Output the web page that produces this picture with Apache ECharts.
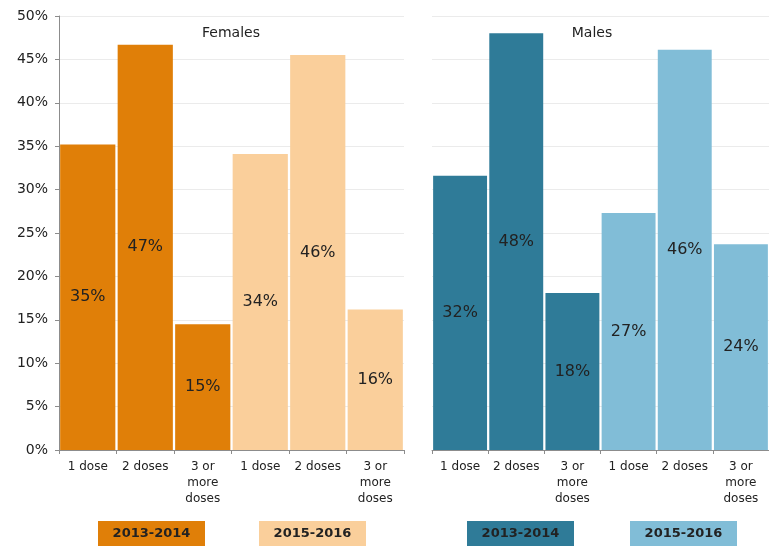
<!DOCTYPE html>
<html>
<head>
<meta charset="utf-8">
<script src="https://cdn.jsdelivr.net/npm/echarts@6/dist/echarts.min.js"></script>
<style>
  html, body { margin: 0; padding: 0; background: #fff; }
  #main { width: 769px; height: 546px; }
</style>
</head>
<body>
<div id="main"></div>
<script>
// dose categories, repeated for the two periods
var doseCats = ['1 dose', '2 doses', '3 or\nmore\ndoses', '1 dose', '2 doses', '3 or\nmore\ndoses'];
var yTicks = [0, 5, 10, 15, 20, 25, 30, 35, 40, 45, 50];

// percent of people, 2013-2014 then 2015-2016
var females1314 = [35.2, 46.7, 14.5];
var females1516 = [34.1, 45.5, 16.2];
var males1314 = [31.6, 48.0, 18.1];
var males1516 = [27.3, 46.1, 23.7];

var periods = ['2013-2014', '2015-2016'];
var femColors = ['#e07f08', '#facf9b'];
var maleColors = ['#2f7b98', '#81bdd7'];

function items(a, b, colors) {
    var out = [];
    a.forEach(function (v) { out.push({ value: v, itemStyle: { color: colors[0] } }); });
    b.forEach(function (v) { out.push({ value: v, itemStyle: { color: colors[1] } }); });
    return out;
}

var font = 'DejaVu Sans, Verdana, sans-serif';

function xAxisFor(idx) {
    return {
        type: 'category',
        gridIndex: idx,
        data: doseCats,
        axisLine: { lineStyle: { color: '#8c8c8c', width: 1 } },
        axisTick: { show: true, length: 4, lineStyle: { color: '#8c8c8c' } },
        axisLabel: { color: '#222', fontSize: 12, fontFamily: font, interval: 0, lineHeight: 16, margin: 9 }
    };
}

function yAxisFor(idx, showLabels) {
    return {
        type: 'value',
        gridIndex: idx,
        min: 0,
        max: 50,
        interval: 5,
        axisLine: { show: showLabels, lineStyle: { color: '#8c8c8c' } },
        axisTick: { show: showLabels, length: 4, lineStyle: { color: '#8c8c8c' } },
        axisLabel: {
            show: showLabels, color: '#222', fontSize: 14, fontFamily: font, margin: 11,
            formatter: function (v) { return yTicks.indexOf(v) >= 0 ? v + '%' : ''; }
        },
        splitLine: { lineStyle: { color: '#ebebeb' } }
    };
}

function barSeries(idx, data) {
    return {
        type: 'bar',
        xAxisIndex: idx,
        yAxisIndex: idx,
        data: data,
        barCategoryGap: '4%',
        label: {
            show: true,
            position: 'inside',
            color: '#222',
            fontSize: 16,
            fontFamily: font,
            formatter: function (p) { return Math.round(p.value) + '%'; }
        }
    };
}

function legendBox(x, color, text) {
    return {
        type: 'group',
        left: x,
        top: 521,
        children: [
            { type: 'rect', shape: { x: 0, y: 0, width: 107, height: 30 }, style: { fill: color } },
            { type: 'text', x: 53.5, y: 13, style: { text: text, fill: '#222', font: 'bold 13px ' + font, textAlign: 'center', textVerticalAlign: 'middle' } }
        ]
    };
}

var myChart = echarts.init(document.getElementById('main'));
var option = {
    animation: false,
    backgroundColor: '#fff',
    grid: [
        { left: 59, right: 365, top: 16, bottom: 96 },
        { left: 432, right: 0, top: 16, bottom: 96 }
    ],
    xAxis: [xAxisFor(0), xAxisFor(1)],
    yAxis: [yAxisFor(0, true), yAxisFor(1, false)],
    series: [
        barSeries(0, items(females1314, females1516, femColors)),
        barSeries(1, items(males1314, males1516, maleColors))
    ],
    graphic: [
        { type: 'text', x: 231, y: 33, style: { text: 'Females', fill: '#222', font: '14px ' + font, textAlign: 'center', textVerticalAlign: 'middle' } },
        { type: 'text', x: 592, y: 33, style: { text: 'Males', fill: '#222', font: '14px ' + font, textAlign: 'center', textVerticalAlign: 'middle' } },
        legendBox(98, femColors[0], periods[0]),
        legendBox(259, femColors[1], periods[1]),
        legendBox(467, maleColors[0], periods[0]),
        legendBox(630, maleColors[1], periods[1])
    ]
};
myChart.setOption(option, true);
</script>
</body>
</html>
